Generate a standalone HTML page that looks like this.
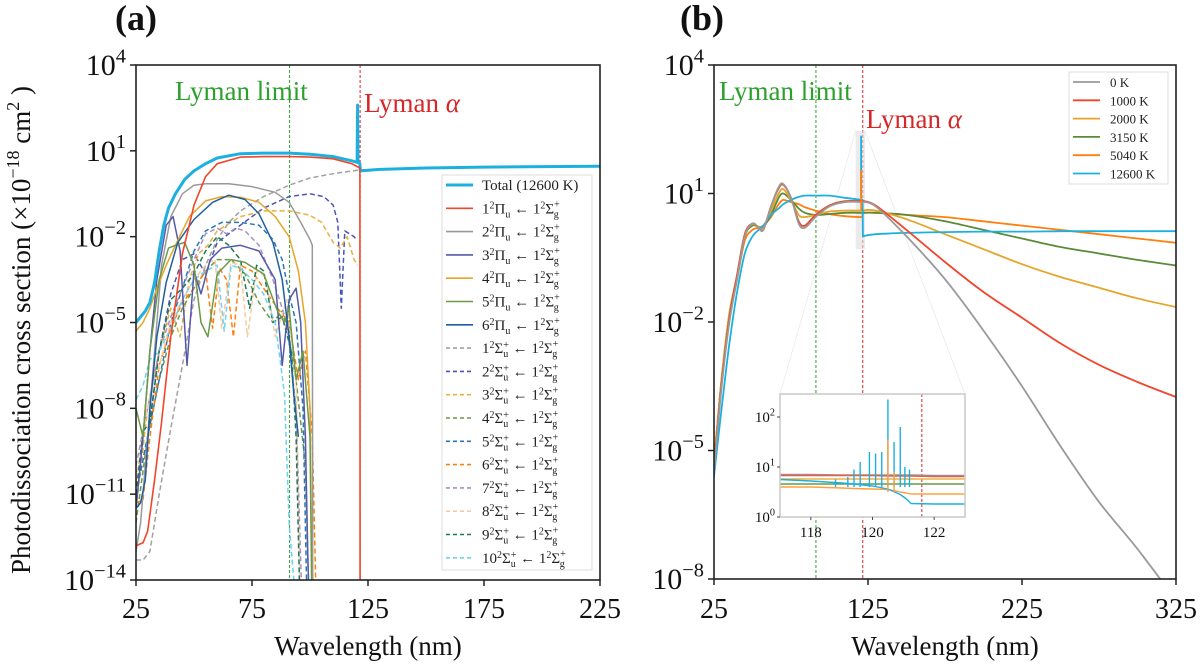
<!DOCTYPE html>
<html><head><meta charset="utf-8">
<style>
html,body{margin:0;padding:0;background:#fff;}
svg{display:block;}
svg text{font-family:"Liberation Serif","DejaVu Serif",serif;}
</style></head>
<body>
<svg id="fig" width="1200" height="666" viewBox="0 0 1200 666" xmlns="http://www.w3.org/2000/svg" font-family="Liberation Serif, DejaVu Serif, serif">
<defs>
<clipPath id="clipA"><rect x="136" y="65" width="464" height="515"/></clipPath>
<clipPath id="clipB"><rect x="714" y="65" width="462" height="514"/></clipPath>
<clipPath id="clipI"><rect x="780" y="394" width="185" height="123"/></clipPath>
</defs>
<g id="root"></g>
</svg>
<script>
// ---------- Panel (a) data (log10 cross section) ----------
const aTotalWl=[25,27,29,31,33,35,37,39,42,46,50,55,60,70,80,91,100,110,118,120.3,120.5,120.7,121.5,121.7,130,150,175,200,225];
const aTotalV=[-5.0,-4.8,-4.6,-4.3,-3.6,-2.5,-1.6,-1.0,-0.5,0.0,0.3,0.55,0.75,0.9,0.92,0.92,0.88,0.8,0.65,0.6,2.6,0.6,0.55,0.3,0.35,0.4,0.43,0.45,0.46];
const a1PiWl=[25,28,30,33,36,40,45,50,55,60,70,80,91,100,110,118,121.5,121.6];
const a1PiV=[-12.8,-12.7,-12.3,-10.5,-8.5,-5.5,-2.6,-0.9,0.1,0.55,0.78,0.8,0.8,0.78,0.72,0.55,0.4,-16];
const a2PiWl=[25,27,30,33,36,40,45,50,55,65,75,85,91,96,100,101,101.2];
const a2PiV=[-13,-12,-9,-6,-3,-1.3,-0.5,-0.2,-0.15,-0.15,-0.25,-0.45,-0.8,-1.5,-2.1,-2.3,-16];
const a3PiWl=[25,28,31,34,38,41,44,47,50,53,57,62,70,78,85,88,91,94,96,98,99,100];
const a3PiV=[-11.5,-9,-6,-3.5,-1.6,-1.3,-2.5,-6.5,-3.2,-4,-2.8,-2.4,-2.3,-2.5,-3.5,-6.5,-4.2,-3.8,-5,-9,-13,-16];
const a4PiWl=[25,28,31,34,38,42,48,55,62,70,78,85,91,95,98,100,101];
const a4PiV=[-5.3,-5,-4.5,-3.8,-3,-2.3,-1.3,-0.75,-0.6,-0.62,-0.8,-1.3,-2.0,-3.2,-5,-8,-16];
const a5PiWl=[25,28,31,35,39,42,46,50,53,56,60,66,72,80,86,89,91,94,97,100,101];
const a5PiV=[-8,-9,-6,-3.5,-2.4,-2.3,-2.2,-3,-5,-5.5,-3.3,-2.8,-2.9,-3.3,-4.6,-5,-4.5,-7,-6,-9,-16];
const a6PiWl=[25,27,29,31,34,38,43,50,58,65,72,78,84,88,91,93,95];
const a6PiV=[-11.5,-11.3,-10.5,-8,-5.5,-3.6,-2.2,-1.4,-0.8,-0.55,-0.7,-1.2,-2.2,-3.5,-5.5,-7.5,-9];
const a1SgWl=[25,28,31,35,40,45,50,55,60,65,70,80,91,100,110,121,150,225];
const a1SgV=[-13.3,-13.3,-13,-11,-8.7,-6.5,-4.2,-3.0,-2.1,-1.5,-1.1,-0.6,-0.2,0.05,0.2,0.33,0.42,0.46];
const a2SgWl=[25,30,35,40,45,50,55,60,70,80,91,100,106,110,112,113.5,115,117,119,120];
const a2SgV=[-11,-9,-6,-4,-2.8,-2.6,-3.3,-2.2,-1.6,-1.0,-0.6,-0.5,-0.6,-0.9,-1.5,-4.5,-1.8,-1.9,-2.0,-2.1];
const a3SgWl=[25,30,35,40,44,48,52,56,60,70,80,91,100,105,110,113,116,119,120.5];
const a3SgV=[-11.5,-8,-6,-4.5,-5.5,-3.5,-2.6,-2.3,-1.8,-1.3,-1.1,-1.1,-1.25,-1.5,-2.2,-2.4,-2.0,-2.8,-3.0];
const a4SgWl=[25,30,35,40,45,50,55,60,66,72,78,84,88,91,94,98,100];
const a4SgV=[-12,-9,-7,-5.5,-4.5,-3.8,-3.2,-2.8,-2.8,-3.3,-4.3,-5,-4.6,-5.5,-7,-10,-16];
const a5SgWl=[25,30,35,40,45,50,55,62,70,78,84,88,91,94,97,99];
const a5SgV=[-11,-9,-7,-5,-3.8,-2.5,-1.8,-1.5,-1.5,-1.6,-2.1,-2.8,-4,-5,-8,-16];
const a6SgWl=[25,28,31,35,40,45,50,55,58,61,64,67,70,75,80,86,91,95,98,101,103];
const a6SgV=[-11.3,-11.2,-9,-6.5,-5.2,-4.3,-3.8,-3.2,-5.2,-3.1,-3.5,-5.5,-3.0,-3.2,-3.8,-4.5,-5,-7,-6,-9,-16];
const a7SgWl=[25,30,35,40,45,50,55,60,64,68,72,78,84,90,94,97];
const a7SgV=[-10,-8,-6,-4.8,-3.8,-2.8,-1.9,-1.7,-1.9,-1.7,-1.8,-2.3,-3.5,-5,-8,-16];
const a8SgWl=[25,30,35,40,45,50,55,59,62,66,70,73,77,81,85,90,94,96];
const a8SgV=[-10.5,-8,-6.5,-5,-4.2,-3.5,-3.0,-2.8,-5.2,-2.9,-3.0,-5.5,-3.2,-3.4,-5.5,-4.2,-7,-16];
const a9SgWl=[25,28,31,35,40,45,50,55,60,65,70,74,77,80,84,88,92,94,96];
const a9SgV=[-11,-8.8,-8.5,-6,-4.2,-3.8,-3.3,-2.5,-2.0,-2.3,-2.8,-4.5,-3,-3.2,-5.0,-4.8,-6,-9,-16];
const a10SgWl=[25,28,31,35,40,45,50,55,60,63,66,70,75,80,85,89,91,93,95];
const a10SgV=[-7.7,-7.2,-6.3,-6,-5.2,-4.2,-3.5,-3.2,-3.0,-5.3,-3.0,-3.1,-3.5,-4.0,-5,-7.5,-12,-14,-16];
const aXTicks=[25,75,125,175,225];
const aYTicks=[4,1,-2,-5,-8,-11,-14];

// ---------- Panel (b) data ----------
const bWl=[25,30,35,40,45,50,54,57,62,67,70,75,80,84,91,100,110,121.5,121.7,130,150,175,200,225,250,275,300,325];
const b0K=[-5.5,-3.5,-2,-1.0,0.0,0.3,0.2,0.15,0.7,1.15,1.22,0.9,0.3,0.2,0.45,0.7,0.8,0.8,0.8,0.7,0.0,-1.0,-2.2,-3.5,-4.9,-6.2,-7.3,-8.5];
const b1000K=[-5.4,-3.4,-1.9,-0.9,0.05,0.3,0.2,0.15,0.7,1.12,1.2,0.9,0.35,0.25,0.5,0.72,0.82,0.82,0.82,0.72,0.15,-0.6,-1.3,-1.9,-2.5,-3.0,-3.4,-3.75];
const b2000K=[-5.3,-3.3,-1.8,-0.9,0.05,0.28,0.22,0.2,0.6,1.0,1.1,0.85,0.5,0.45,0.5,0.58,0.6,0.6,0.6,0.6,0.4,0.05,-0.3,-0.65,-0.95,-1.2,-1.45,-1.65];
const b3150K=[-5.3,-3.3,-1.8,-0.95,0.0,0.25,0.22,0.22,0.5,0.9,1.0,0.85,0.65,0.55,0.5,0.52,0.55,0.55,0.55,0.55,0.5,0.35,0.15,-0.05,-0.25,-0.4,-0.55,-0.68];
const b5040K=[-5.3,-3.4,-1.9,-1.0,-0.1,0.15,0.2,0.25,0.45,0.75,0.85,0.8,0.75,0.68,0.6,0.52,0.47,0.45,0.55,0.55,0.5,0.45,0.35,0.25,0.15,0.05,-0.05,-0.15];
const b12600K=[-5.6,-4.0,-2.5,-1.3,-0.4,0.0,0.15,0.25,0.5,0.65,0.75,0.85,0.92,0.95,0.95,0.95,0.9,0.85,0.0,0.05,0.08,0.1,0.11,0.11,0.12,0.12,0.12,0.12];
const bXTicks=[25,125,225,325];
const bYTicks=[4,1,-2,-5,-8];

// ---------- Inset data ----------
const iWl=[117,118,119,119.4,120,120.5,120.9,121.1,121.25,122,123];
const i0K=[0.85,0.85,0.84,0.84,0.84,0.84,0.84,0.84,0.84,0.83,0.83];
const i1000K=[0.83,0.83,0.83,0.83,0.83,0.82,0.82,0.82,0.82,0.81,0.81];
const i2000K=[0.76,0.76,0.76,0.76,0.76,0.76,0.76,0.76,0.76,0.76,0.76];
const i3150K=[0.66,0.66,0.66,0.66,0.66,0.66,0.66,0.66,0.66,0.66,0.66];
const i5040K=[0.6,0.6,0.58,0.57,0.56,0.55,0.5,0.48,0.46,0.46,0.46];
const i12600K=[0.75,0.72,0.68,0.66,0.62,0.56,0.45,0.36,0.27,0.26,0.26];
const iSpikeWl=[118.8,119.2,119.4,119.6,119.9,120.1,120.3,120.5,120.7,120.9,121.05,121.2];
const iSpikeV=[0.75,0.8,0.95,1.1,1.3,1.27,1.3,2.35,1.5,1.8,1.0,0.95];
const iOrangeSpikeWl=[120.5,120.7];
const iOrangeSpikeV=[1.55,0.9];
const iXTicks=[118,120,122];
const iYTicks=[0,1,2];

// ---------- helpers ----------
const NS="http://www.w3.org/2000/svg";
const root=document.getElementById('root');
function el(tag,attrs,parent){const e=document.createElementNS(NS,tag);for(const k in attrs)e.setAttribute(k,attrs[k]);(parent||root).appendChild(e);return e;}
const axA={x0:136,x1:600,y0:65,y1:580,xmin:25,xmax:225,ymin:-14,ymax:4};
const axB={x0:714,x1:1176,y0:65,y1:579,xmin:25,xmax:325,ymin:-8,ymax:4};
const axI={x0:780,x1:965,y0:394,y1:517,xmin:117,xmax:123,ymin:0,ymax:2.46};
function X(ax,v){return ax.x0+(v-ax.xmin)/(ax.xmax-ax.xmin)*(ax.x1-ax.x0);}
function Y(ax,v){return ax.y1-(v-ax.ymin)/(ax.ymax-ax.ymin)*(ax.y1-ax.y0);}
function line(g,ax,wl,vals,color,w,dash,name,smooth){
  const P=wl.map((x,i)=>[X(ax,x),Y(ax,vals[i])]);
  let d='M'+P[0][0].toFixed(1)+','+P[0][1].toFixed(1);
  for(let i=0;i<P.length-1;i++){
    if(smooth && Math.abs(P[i+1][0]-P[i][0])>2){
      const p0=P[Math.max(0,i-1)],p1=P[i],p2=P[i+1],p3=P[Math.min(P.length-1,i+2)];
      const t=0.16;
      let c1=[p1[0]+(p2[0]-p0[0])*t,p1[1]+(p2[1]-p0[1])*t];
      let c2=[p2[0]-(p3[0]-p1[0])*t,p2[1]-(p3[1]-p1[1])*t];
      if(Math.abs(p1[0]-p0[0])<2)c1=p1;
      if(Math.abs(p3[0]-p2[0])<2)c2=p2;
      d+=' C'+c1[0].toFixed(1)+','+c1[1].toFixed(1)+' '+c2[0].toFixed(1)+','+c2[1].toFixed(1)+' '+p2[0].toFixed(1)+','+p2[1].toFixed(1);
    } else d+=' L'+P[i+1][0].toFixed(1)+','+P[i+1][1].toFixed(1);
  }
  const p=el('path',{d:d,fill:'none',stroke:color,'stroke-width':w,'stroke-linejoin':'round'},g);
  if(dash)p.setAttribute('stroke-dasharray',dash);
  
  
  return p;
}
function powLabel(x,y,exp,size,name){
  const t=el('text',{x:x,y:y,'text-anchor':'end','font-size':size,fill:'#111'});
  
  
  const a=el('tspan',{},t);a.textContent='10';
  const b=el('tspan',{dy:-size*0.42,'font-size':size*0.68},t);b.textContent=(exp<0?'\u2212'+(-exp):''+exp);
  return t;
}
function frame(ax,name,stroke){
  const r=el('rect',{x:ax.x0,y:ax.y0,width:ax.x1-ax.x0,height:ax.y1-ax.y0,fill:'none',stroke:stroke||'#222','stroke-width':1.6});
  
  
}

// ---------- Panel (a) ----------
const gA=el('g',{'clip-path':'url(#clipA)'});


el('line',{x1:X(axA,91.2),x2:X(axA,91.2),y1:65,y2:580,stroke:'#2ca02c','stroke-width':1,'stroke-dasharray':'3,2'},gA);
el('line',{x1:X(axA,121.6),x2:X(axA,121.6),y1:65,y2:580,stroke:'#d62728','stroke-width':1,'stroke-dasharray':'3,2'},gA);
const aSeries=[
 [a1SgWl,a1SgV,'#a0a0a0','5,3','series-1sigma'],
 [a2SgWl,a2SgV,'#4a55b5','5,3','series-2sigma'],
 [a3SgWl,a3SgV,'#e8b040','5,3','series-3sigma'],
 [a4SgWl,a4SgV,'#6a9a4a','5,3','series-4sigma'],
 [a5SgWl,a5SgV,'#2a77b5','5,3','series-5sigma'],
 [a6SgWl,a6SgV,'#ff7f0e','5,3','series-6sigma'],
 [a7SgWl,a7SgV,'#a890c0','5,3','series-7sigma'],
 [a8SgWl,a8SgV,'#f9c9a0','5,3','series-8sigma'],
 [a9SgWl,a9SgV,'#1a7a5a','5,3','series-9sigma'],
 [a10SgWl,a10SgV,'#6dd3ee','5,3','series-10sigma'],
 [a2PiWl,a2PiV,'#999999',null,'series-2pi'],
 [a3PiWl,a3PiV,'#5559a8',null,'series-3pi'],
 [a4PiWl,a4PiV,'#e6a52a',null,'series-4pi'],
 [a5PiWl,a5PiV,'#6a9a4a',null,'series-5pi'],
 [a6PiWl,a6PiV,'#1f5f9f',null,'series-6pi'],
];
aSeries.forEach(s=>line(gA,axA,s[0],s[1],s[2],1.5,s[3],s[4],false));
line(gA,axA,aTotalWl,aTotalV,'#1cb0e0',3,null,'series-total',false);
line(gA,axA,a1PiWl,a1PiV,'#f0462b',1.6,null,'series-1pi',false);
frame(axA,'panel-a-frame');
aXTicks.forEach(v=>{const x=X(axA,v);el('line',{x1:x,x2:x,y1:580,y2:586,stroke:'#222','stroke-width':1.5});
 const t=el('text',{x:x,y:618,'text-anchor':'middle','font-size':28,fill:'#111'});t.textContent=v;
 
 });
aYTicks.forEach(v=>{const y=Y(axA,v);el('line',{x1:130,x2:136,y1:y,y2:y,stroke:'#222','stroke-width':1.5});
 powLabel(126,y+10,v,30,'y-tick-label-a');});
{const t=el('text',{x:368,y:655,'text-anchor':'middle','font-size':27,fill:'#111'});t.textContent='Wavelength (nm)';
 }
{const t=el('text',{x:0,y:0,'text-anchor':'middle','font-size':27,fill:'#111',transform:'translate(30,330) rotate(-90)'});
 
 const a=el('tspan',{},t);a.textContent='Photodissociation cross section (\u00d710';
 const b=el('tspan',{dy:-11,'font-size':18},t);b.textContent='\u221218';
 const c=el('tspan',{dy:11},t);c.textContent=' cm';
 const d=el('tspan',{dy:-11,'font-size':18},t);d.textContent='2';
 const e=el('tspan',{dy:11},t);e.textContent=' )';}
{const t=el('text',{x:115,y:30,'font-size':36,'font-weight':'bold',fill:'#111'});t.textContent='(a)';
 }
{const t=el('text',{x:175,y:100,'font-size':27,fill:'#2ca02c'});t.textContent='Lyman limit';
 }
{const t=el('text',{x:364,y:112,'font-size':27,fill:'#d62728'});t.textContent='Lyman ';
 
 const a=el('tspan',{'font-style':'italic'},t);a.textContent='\u03b1';}

// legend a
const legA=el('g',{});


el('rect',{x:442,y:175,width:150,height:395,fill:'#fff','fill-opacity':0.85,stroke:'#ddd','stroke-width':1},legA);
const legAEntries=[['Total (12600 K)','#1cb0e0',null,3,null,null],
 ['1','#f0462b',null,1.6,'\u03a0','u'],['2','#999999',null,1.6,'\u03a0','u'],['3','#5559a8',null,1.6,'\u03a0','u'],
 ['4','#e6a52a',null,1.6,'\u03a0','u'],['5','#6a9a4a',null,1.6,'\u03a0','u'],['6','#1f5f9f',null,1.6,'\u03a0','u'],
 ['1','#a0a0a0','4,3',1.6,'\u03a3','u+'],['2','#4a55b5','4,3',1.6,'\u03a3','u+'],['3','#e8b040','4,3',1.6,'\u03a3','u+'],
 ['4','#6a9a4a','4,3',1.6,'\u03a3','u+'],['5','#2a77b5','4,3',1.6,'\u03a3','u+'],['6','#ff7f0e','4,3',1.6,'\u03a3','u+'],
 ['7','#a890c0','4,3',1.6,'\u03a3','u+'],['8','#f9c9a0','4,3',1.6,'\u03a3','u+'],['9','#1a7a5a','4,3',1.6,'\u03a3','u+'],
 ['10','#6dd3ee','4,3',1.6,'\u03a3','u+']];
legAEntries.forEach((e,i)=>{
 const y=185+i*23.3;
 const g=el('g',{},legA);
 
 
 const l=el('line',{x1:446,x2:473,y1:y,y2:y,stroke:e[1],'stroke-width':e[3]},g);
 if(e[2])l.setAttribute('stroke-dasharray',e[2]);
 const t=el('text',{x:482,y:y+5,'font-size':15,fill:'#222'},g);
 if(!e[4]){t.textContent=e[0];return;}
 const parts=[[e[0],0,15],['2',-5,10],[e[4],5,15],[e[5][0],4,10]];
 parts.forEach(p=>{const s=el('tspan',{dy:p[1],'font-size':p[2]},t);s.textContent=p[0];});
 if(e[5].length>1){const s=el('tspan',{dy:-9,dx:-5,'font-size':10},t);s.textContent='+';
   const s2=el('tspan',{dy:5,'font-size':15},t);s2.textContent=' \u2190 1';}
 else{const s2=el('tspan',{dy:-4,'font-size':15},t);s2.textContent=' \u2190 1';}
 const s3=el('tspan',{dy:-5,'font-size':10},t);s3.textContent='2';
 const s4=el('tspan',{dy:5,'font-size':15},t);s4.textContent='\u03a3';
 const s5=el('tspan',{dy:-6,'font-size':10},t);s5.textContent='+';
 const s6=el('tspan',{dy:10,dx:-6,'font-size':10},t);s6.textContent='g';
});

// ---------- Panel (b) ----------
const gB=el('g',{'clip-path':'url(#clipB)'});


el('line',{x1:X(axB,91.2),x2:X(axB,91.2),y1:65,y2:579,stroke:'#2ca02c','stroke-width':1,'stroke-dasharray':'3,2'},gB);
el('line',{x1:X(axB,121.6),x2:X(axB,121.6),y1:65,y2:579,stroke:'#d62728','stroke-width':1,'stroke-dasharray':'3,2'},gB);
const zr=el('rect',{x:X(axB,117),y:Y(axB,2.46),width:X(axB,123)-X(axB,117),height:Y(axB,-0.3)-Y(axB,2.46),fill:'#ddd','fill-opacity':0.6},gB);

el('line',{x1:X(axB,117),y1:Y(axB,2.46),x2:780,y2:394,stroke:'#e4e4e4','stroke-width':0.6},gB);
el('line',{x1:X(axB,123),y1:Y(axB,2.46),x2:965,y2:394,stroke:'#e4e4e4','stroke-width':0.6},gB);
const bSeries=[[b5040K,'#ff7f0e','series-5040k'],[b3150K,'#5a8a3a','series-3150k'],[b2000K,'#e6a52a','series-2000k'],
 [b12600K,'#1cb0e0','series-12600k'],[b1000K,'#f0462b','series-1000k'],[b0K,'#999999','series-0k']];
bSeries.forEach(s=>line(gB,axB,bWl,s[0],s[1],1.8,null,s[2],true));
line(gB,axB,[120.5,120.5],[0.9,2.35],'#1cb0e0',1.8,null,'series-12600k-spike',false);
line(gB,axB,[120.6,120.6],[0.6,1.55],'#ff7f0e',1.8,null,'series-5040k-spike',false);
frame(axB,'panel-b-frame');
bXTicks.forEach(v=>{const x=X(axB,v);el('line',{x1:x,x2:x,y1:579,y2:585,stroke:'#222','stroke-width':1.5});
 const t=el('text',{x:x,y:618,'text-anchor':'middle','font-size':28,fill:'#111'});t.textContent=v;
 
 });
bYTicks.forEach(v=>{const y=Y(axB,v);el('line',{x1:708,x2:714,y1:y,y2:y,stroke:'#222','stroke-width':1.5});
 powLabel(704,y+10,v,30,'y-tick-label-b');});
{const t=el('text',{x:945,y:655,'text-anchor':'middle','font-size':27,fill:'#111'});t.textContent='Wavelength (nm)';
 }
{const t=el('text',{x:680,y:30,'font-size':36,'font-weight':'bold',fill:'#111'});t.textContent='(b)';
 }
{const t=el('text',{x:719,y:100,'font-size':27,fill:'#2ca02c'});t.textContent='Lyman limit';
 }
{const t=el('text',{x:866,y:128,'font-size':27,fill:'#d62728'});t.textContent='Lyman ';
 
 const a=el('tspan',{'font-style':'italic'},t);a.textContent='\u03b1';}
const legB=el('g',{});


el('rect',{x:1069,y:72,width:99,height:112,fill:'#fff',stroke:'#ddd','stroke-width':1},legB);
const legBEntries=[['0 K','#999999'],['1000 K','#f0462b'],['2000 K','#e6a52a'],['3150 K','#5a8a3a'],['5040 K','#ff7f0e'],['12600 K','#1cb0e0']];
legBEntries.forEach((e,i)=>{const y=82+i*18.3;
 const g=el('g',{},legB);
 
 
 el('line',{x1:1073,x2:1100,y1:y,y2:y,stroke:e[1],'stroke-width':1.8},g);
 const t=el('text',{x:1110,y:y+5,'font-size':13,fill:'#222'},g);t.textContent=e[0];});

// ---------- Inset ----------
const gIbg=el('rect',{x:780,y:394,width:185,height:123,fill:'#fff'});


const gI=el('g',{'clip-path':'url(#clipI)'});


el('line',{x1:X(axI,121.6),x2:X(axI,121.6),y1:394,y2:517,stroke:'#d62728','stroke-width':1,'stroke-dasharray':'3,2'},gI);
[[i0K,'#999999','inset-0k'],[i1000K,'#e0604a','inset-1000k'],[i2000K,'#f0b040','inset-2000k'],[i3150K,'#6a9a4a','inset-3150k'],[i5040K,'#ffa040','inset-5040k'],[i12600K,'#1cb0e0','inset-12600k']]
 .forEach(s=>line(gI,axI,iWl,s[0],s[1],1.4,null,s[2],false));
iSpikeWl.forEach((w,i)=>{
 const l=el('line',{x1:X(axI,w),x2:X(axI,w),y1:Y(axI,0.6),y2:Y(axI,iSpikeV[i]),stroke:'#1cb0e0','stroke-width':1.4},gI);
 
 });
iOrangeSpikeWl.forEach((w,i)=>{const l=el('line',{x1:X(axI,w),x2:X(axI,w),y1:Y(axI,0.5),y2:Y(axI,iOrangeSpikeV[i]),stroke:'#ffa040','stroke-width':1.4},gI);
 
 });
frame(axI,'inset-frame','#ccc');
iXTicks.forEach(v=>{const x=X(axI,v);el('line',{x1:x,x2:x,y1:517,y2:520,stroke:'#444','stroke-width':1});
 const t=el('text',{x:x,y:537,'text-anchor':'middle','font-size':15,fill:'#111'});t.textContent=v;
 
 });
iYTicks.forEach(v=>{const y=Y(axI,v);el('line',{x1:777,x2:780,y1:y,y2:y,stroke:'#444','stroke-width':1});
 powLabel(775,y+5,v,15,'inset-y-tick-label');});
</script>
</body></html>
